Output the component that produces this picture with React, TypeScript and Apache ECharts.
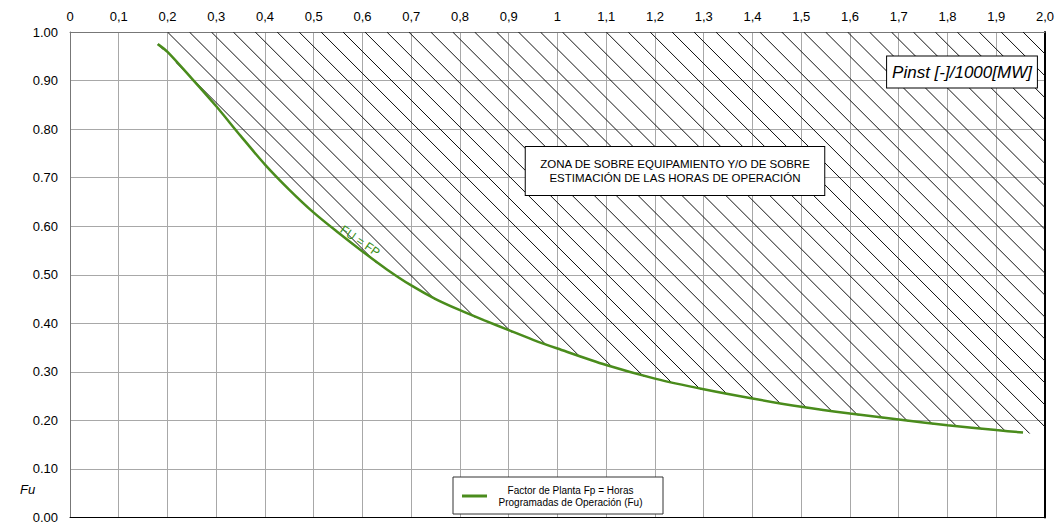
import React, { useEffect, useRef } from 'react';
import * as echarts from 'echarts';

const CURVE_X = [0.18, 0.2, 0.25, 0.3, 0.35, 0.4, 0.45, 0.5, 0.55, 0.6, 0.65, 0.7, 0.75, 0.8, 0.85, 0.9, 0.95, 1.0, 1.1, 1.2, 1.3, 1.4, 1.5, 1.6, 1.7, 1.8, 1.9, 1.955];
const CURVE_Y = [0.975, 0.959, 0.904, 0.847, 0.786, 0.727, 0.675, 0.628, 0.587, 0.548, 0.511, 0.478, 0.45, 0.427, 0.406, 0.386, 0.366, 0.348, 0.314, 0.286, 0.264, 0.245, 0.228, 0.214, 0.202, 0.19, 0.18, 0.175];

const X_LABELS = ['0', '0,1', '0,2', '0,3', '0,4', '0,5', '0,6', '0,7', '0,8', '0,9', '1', '1,1', '1,2', '1,3', '1,4', '1,5', '1,6', '1,7', '1,8', '1,9', '2,0'];
const Y_LABELS = ['0.00', '0.10', '0.20', '0.30', '0.40', '0.50', '0.60', '0.70', '0.80', '0.90', '1.00'];

const SERIES_NAME = 'Factor de Planta Fp = Horas Programadas de Operación (Fu)';
const LEGEND_LINES = ['Factor de Planta Fp = Horas', 'Programadas de Operación (Fu)'];
const ZONE_LINES = ['ZONA DE SOBRE EQUIPAMIENTO Y/O DE SOBRE', 'ESTIMACIÓN DE LAS HORAS DE OPERACIÓN'];
const X_AXIS_NAME = 'Pinst [-]/1000[MW]';
const Y_AXIS_NAME = 'Fu';
const CURVE_LABEL = 'FU = FP';

const HATCH_START = 0.2;
const HATCH_STEP = 0.045;

const FONT = '"Liberation Sans", Arial, sans-serif';
const GREEN = '#4a8c1c';

export default function App() {
  const ref = useRef<HTMLDivElement>(null);

  useEffect(() => {
    const chart = echarts.init(ref.current as HTMLDivElement, null, { renderer: 'svg' });

    const renderHatch = (params: any, api: any) => {
      const cs = params.coordSys;
      const right = cs.x + cs.width;
      const top = cs.y;
      const pts = CURVE_X.map((x, i) => api.coord([x, CURVE_Y[i]]));
      const curveAt = (px: number) => {
        if (px <= pts[0][0]) return pts[0][1];
        const last = pts[pts.length - 1];
        if (px >= last[0]) return last[1];
        for (let i = 1; i < pts.length; i++) {
          if (px <= pts[i][0]) {
            const a = pts[i - 1];
            const b = pts[i];
            const t = (px - a[0]) / (b[0] - a[0]);
            return a[1] + t * (b[1] - a[1]);
          }
        }
        return last[1];
      };
      const left = pts[0][0];
      const children: any[] = [];
      for (let k = -1; k < 200; k++) {
        const xt = api.coord([HATCH_START + k * HATCH_STEP, 1])[0];
        if (xt > right + 0.5) break;
        let segStart: number[] | null = null;
        let prev: number[] | null = null;
        const push = () => {
          if (segStart && prev && prev[0] - segStart[0] > 2) {
            children.push({
              type: 'line',
              shape: { x1: segStart[0], y1: segStart[1], x2: prev[0], y2: prev[1] },
              style: { stroke: '#111', lineWidth: 1 },
            });
          }
          segStart = null;
        };
        const startX = Math.max(xt, left);
        for (let px = startX; px <= right + 0.001; px += 0.5) {
          const py = top + (px - xt);
          const inside = py >= top - 0.01 && py <= curveAt(px) + 1.2;
          if (inside) {
            if (!segStart) segStart = [px, py];
            prev = [px, py];
          } else if (segStart) {
            push();
          }
          if (py > cs.y + cs.height) break;
        }
        push();
      }
      return { type: 'group', children };
    };

    const option: any = {
      animation: false,
      grid: { left: 70, right: 12, top: 32, bottom: 5, containLabel: false },
      xAxis: [
        {
          type: 'value',
          position: 'top',
          min: 0,
          max: 2,
          interval: 0.1,
          axisLine: { show: true, onZero: false, lineStyle: { color: '#777', width: 1 } },
          axisTick: { show: false },
          axisLabel: {
            margin: 9,
            color: '#000',
            fontSize: 13,
            fontFamily: FONT,
            formatter: (v: number) => X_LABELS[Math.round(v * 10)] ?? '',
          },
          splitLine: { show: true, lineStyle: { color: '#a8a8a8', width: 1 } },
        },
        {
          type: 'value',
          position: 'bottom',
          min: 0,
          max: 2,
          interval: 0.1,
          axisLine: { show: true, onZero: false, lineStyle: { color: '#000', width: 1 } },
          axisTick: { show: false },
          axisLabel: { show: false },
          splitLine: { show: false },
        },
      ],
      yAxis: [
        {
          type: 'value',
          min: 0,
          max: 1,
          interval: 0.1,
          axisLine: { show: true, onZero: false, lineStyle: { color: '#777', width: 1 } },
          axisTick: { show: false },
          axisLabel: {
            margin: 12,
            color: '#000',
            fontSize: 13,
            fontFamily: FONT,
            formatter: (v: number) => Y_LABELS[Math.round(v * 10)] ?? '',
          },
          splitLine: { show: true, lineStyle: { color: '#a8a8a8', width: 1 } },
        },
        {
          type: 'value',
          position: 'right',
          min: 0,
          max: 1,
          interval: 0.1,
          axisLine: { show: true, onZero: false, lineStyle: { color: '#000', width: 2 } },
          axisTick: { show: false },
          axisLabel: { show: false },
          splitLine: { show: false },
        },
      ],
      legend: {
        left: 453,
        top: 477,
        padding: [8, 14, 7, 9],
        backgroundColor: '#fff',
        borderColor: '#333',
        borderWidth: 1,
        borderRadius: 0,
        icon: 'rect',
        itemWidth: 25,
        itemHeight: 3,
        z: 20,
        data: [{ name: SERIES_NAME, itemStyle: { color: GREEN } }],
        formatter: () => LEGEND_LINES.map((l) => '{a|' + l + '}').join('\n'),
        textStyle: {
          rich: {
            a: { width: 157, align: 'center', fontSize: 10, lineHeight: 12, fontFamily: FONT, color: '#000' },
          },
        },
      },
      graphic: [
        {
          type: 'text',
          x: 675,
          y: 171,
          z: 20,
          style: {
            text: ZONE_LINES.join('\n'),
            font: '11.5px ' + FONT,
            fill: '#000',
            align: 'center',
            verticalAlign: 'middle',
            lineHeight: 14,
            backgroundColor: '#fff',
            borderColor: '#000',
            borderWidth: 1,
            padding: [10, 14, 10, 14],
          },
        },
        {
          type: 'text',
          x: 962,
          y: 72,
          z: 20,
          style: {
            text: X_AXIS_NAME,
            font: 'italic 17px ' + FONT,
            fill: '#000',
            align: 'center',
            verticalAlign: 'middle',
            backgroundColor: '#fff',
            borderColor: '#000',
            borderWidth: 1,
            padding: [7, 5, 7, 5],
          },
        },
        {
          type: 'text',
          x: 20,
          y: 489,
          z: 20,
          style: {
            text: Y_AXIS_NAME,
            font: 'italic 13px ' + FONT,
            fill: '#000',
            align: 'left',
            verticalAlign: 'middle',
          },
        },
        {
          type: 'text',
          x: 360,
          y: 241,
          rotation: -0.6,
          z: 20,
          style: {
            text: CURVE_LABEL,
            font: '12px ' + FONT,
            fill: '#3a8f1a',
            align: 'center',
            verticalAlign: 'middle',
          },
        },
      ],
      series: [
        {
          type: 'custom',
          name: 'hatch',
          xAxisIndex: 0,
          yAxisIndex: 0,
          silent: true,
          clip: true,
          z: 1,
          renderItem: renderHatch,
          data: [[1, 0.5]],
        },
        {
          type: 'line',
          name: SERIES_NAME,
          xAxisIndex: 0,
          yAxisIndex: 0,
          data: CURVE_X.map((x, i) => [x, CURVE_Y[i]]),
          showSymbol: false,
          symbol: 'none',
          smooth: 0.3,
          z: 5,
          lineStyle: { color: GREEN, width: 2.5 },
          itemStyle: { color: GREEN },
        },
      ],
    };

    chart.setOption(option);
    return () => chart.dispose();
  }, []);

  return <div ref={ref} style={{ position: 'absolute', left: 0, top: 0, width: 1057, height: 524 }} />;
}
